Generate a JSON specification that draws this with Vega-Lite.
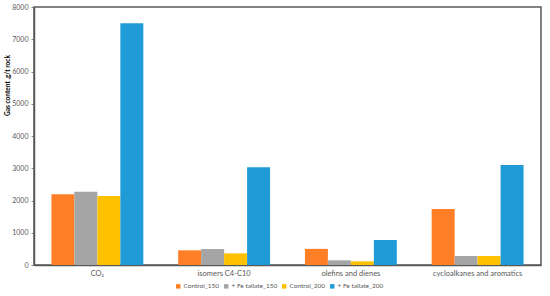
{
  "$schema": "https://vega.github.io/schema/vega-lite/v6.json",
  "autosize": "none",
  "width": 507,
  "height": 258,
  "padding": {"left": 34, "top": 7, "right": 9, "bottom": 31},
  "config": {
    "font": "Lato",
    "view": {"stroke": "#595959", "strokeWidth": 1.5},
    "axis": {"grid": false, "domainColor": "#595959", "domainWidth": 1.5, "tickColor": "#808080", "labelColor": "#595959", "labelFontSize": 7, "titleColor": "#000000"}
  },
  "data": {
    "values": [
      {"cat": "CO₂", "series": "Control_150", "value": 2195},
      {"cat": "CO₂", "series": "+ Fe tallate_150", "value": 2270},
      {"cat": "CO₂", "series": "Control_200", "value": 2136},
      {"cat": "CO₂", "series": "+ Fe tallate_200", "value": 7500},
      {"cat": "isomers C4-C10", "series": "Control_150", "value": 455},
      {"cat": "isomers C4-C10", "series": "+ Fe tallate_150", "value": 495},
      {"cat": "isomers C4-C10", "series": "Control_200", "value": 362},
      {"cat": "isomers C4-C10", "series": "+ Fe tallate_200", "value": 3030},
      {"cat": "olefins and dienes", "series": "Control_150", "value": 500},
      {"cat": "olefins and dienes", "series": "+ Fe tallate_150", "value": 145},
      {"cat": "olefins and dienes", "series": "Control_200", "value": 115},
      {"cat": "olefins and dienes", "series": "+ Fe tallate_200", "value": 775},
      {"cat": "cycloalkanes and aromatics", "series": "Control_150", "value": 1735},
      {"cat": "cycloalkanes and aromatics", "series": "+ Fe tallate_150", "value": 280},
      {"cat": "cycloalkanes and aromatics", "series": "Control_200", "value": 280},
      {"cat": "cycloalkanes and aromatics", "series": "+ Fe tallate_200", "value": 3100}
    ]
  },
  "mark": {"type": "bar"},
  "encoding": {
    "x": {
      "field": "cat", "type": "nominal",
      "sort": ["CO₂", "isomers C4-C10", "olefins and dienes", "cycloalkanes and aromatics"],
      "scale": {"paddingInner": 0.275, "paddingOuter": 0.1375},
      "axis": {"title": null, "labelAngle": 0, "ticks": false, "labelPadding": 4, "labelFontSize": 7.5}
    },
    "xOffset": {
      "field": "series", "type": "nominal",
      "sort": ["Control_150", "+ Fe tallate_150", "Control_200", "+ Fe tallate_200"],
      "scale": {"paddingInner": 0, "paddingOuter": 0}
    },
    "y": {
      "field": "value", "type": "quantitative",
      "scale": {"domain": [0, 8000], "nice": false},
      "axis": {"values": [0, 1000, 2000, 3000, 4000, 5000, 6000, 7000, 8000], "format": "d", "tickSize": 3, "labelPadding": 3, "title": "Gas content ,g/t rock", "titleFontSize": 6.5, "titleFontWeight": "bold", "titleX": -27, "titleY": 78, "titleAngle": -90, "titleAlign": "center", "titleBaseline": "middle"}
    },
    "color": {
      "field": "series", "type": "nominal",
      "sort": ["Control_150", "+ Fe tallate_150", "Control_200", "+ Fe tallate_200"],
      "scale": {"domain": ["Control_150", "+ Fe tallate_150", "Control_200", "+ Fe tallate_200"], "range": ["#FF7F27", "#A5A5A5", "#FFC000", "#1F9BD7"]},
      "legend": {"title": null, "orient": "none", "legendX": 141, "legendY": 276, "direction": "horizontal", "symbolType": "square", "symbolSize": 20, "symbolStrokeWidth": 0, "labelFontSize": 6.5, "labelOffset": 2, "labelColor": "#595959", "columnPadding": 3}
    }
  }
}
